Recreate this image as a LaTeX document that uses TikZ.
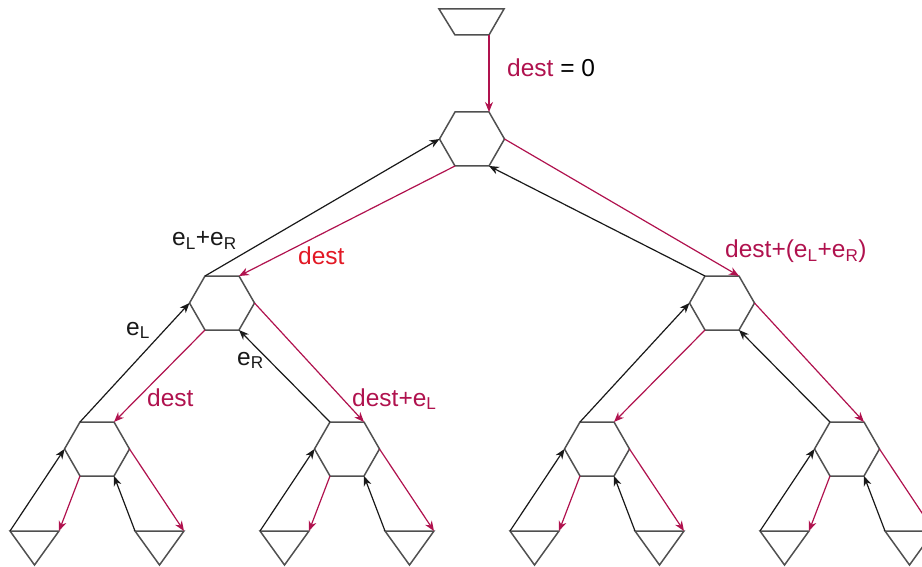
\documentclass[tikz,border=0pt]{standalone}
\usepackage{fontspec}
\setmainfont{Liberation Sans}
\usetikzlibrary{arrows.meta}
\definecolor{crim}{RGB}{176,18,78}
\definecolor{lblred}{RGB}{226,24,36}
\definecolor{outl}{RGB}{80,80,80}
\definecolor{blk}{RGB}{25,25,25}
\tikzset{
  shapeline/.style={draw=outl,line width=1.5pt,line join=miter},
  upedge/.style={draw=blk,line width=1.2pt,-{Stealth[length=10pt,width=8pt]}},
  downedge/.style={draw=crim,line width=1.2pt,-{Stealth[length=10pt,width=8pt]}},
  lbl/.style={font=\fontsize{24.5}{28}\selectfont,inner sep=0pt,anchor=base west},
  hexa/.pic={
    \path[shapeline] (-17,-27) -- (17,-27) -- (32.5,0) -- (17,27) -- (-17,27) -- (-32.5,0) -- cycle;
    \coordinate (-tl) at (-17,-27);
    \coordinate (-tr) at (17,-27);
    \coordinate (-l) at (-32.5,0);
    \coordinate (-r) at (32.5,0);
    \coordinate (-bl) at (-17,27);
    \coordinate (-br) at (17,27);
  },
  leaf/.pic={
    \path[shapeline] (-24.5,0) -- (24.5,0) -- (0,34) -- cycle;
    \coordinate (-tl) at (-24.5,0);
    \coordinate (-tr) at (24.5,0);
  },
  src/.pic={
    \path[shapeline] (-33,0) -- (32,0) -- (17,26) -- (-17,26) -- cycle;
    \coordinate (-br) at (17,26);
  }
}
\begin{document}
\begin{tikzpicture}[x=1pt,y=-1pt]
\useasboundingbox (0,0) rectangle (922,567);
\clip (0,0) rectangle (922,567);
% shapes
\pic (s) at (472,9) {src};
\pic (r) at (472,139) {hexa};
\pic (a) at (222,303) {hexa};
\pic (b) at (722,303) {hexa};
\pic (a1) at (97,449) {hexa};
\pic (a2) at (347,449) {hexa};
\pic (b1) at (597,449) {hexa};
\pic (b2) at (847,449) {hexa};
\foreach \n/\x in {a1/97,a2/347,b1/597,b2/847}{
  \pic (\n L) at (\x-62.5,531) {leaf};
  \pic (\n R) at (\x+62.5,531) {leaf};
}
% root input
\draw[downedge] (s-br) -- (r-tr);
% edges
\foreach \p/\l/\r in {r/a/b, a/a1/a2, b/b1/b2, a1/a1L/a1R, a2/a2L/a2R, b1/b1L/b1R, b2/b2L/b2R}{
  \draw[upedge] (\l-tl) -- (\p-l);
  \draw[downedge] (\p-bl) -- (\l-tr);
  \draw[upedge] (\r-tl) -- (\p-br);
  \draw[downedge] (\p-r) -- (\r-tr);
}
% labels
\node[lbl] (t0) at (507,77) {\textcolor{crim}{dest} = 0};
\node[lbl,text=blk] (t1) at (172,246) {e\textsubscript{L}+e\textsubscript{R}};
\node[lbl,text=lblred] (t2) at (298,265) {dest};
\node[lbl,text=blk] (t3) at (126,335) {e\textsubscript{L}};
\node[lbl,text=blk] (t4) at (237,365) {e\textsubscript{R}};
\node[lbl,text=crim] (t5) at (147,406) {dest};
\node[lbl,text=crim] (t6) at (352,406) {dest+e\textsubscript{L}};
\node[lbl,text=crim] (t7) at (725,258) {dest+(e\textsubscript{L}+e\textsubscript{R})};
\end{tikzpicture}
\end{document}
